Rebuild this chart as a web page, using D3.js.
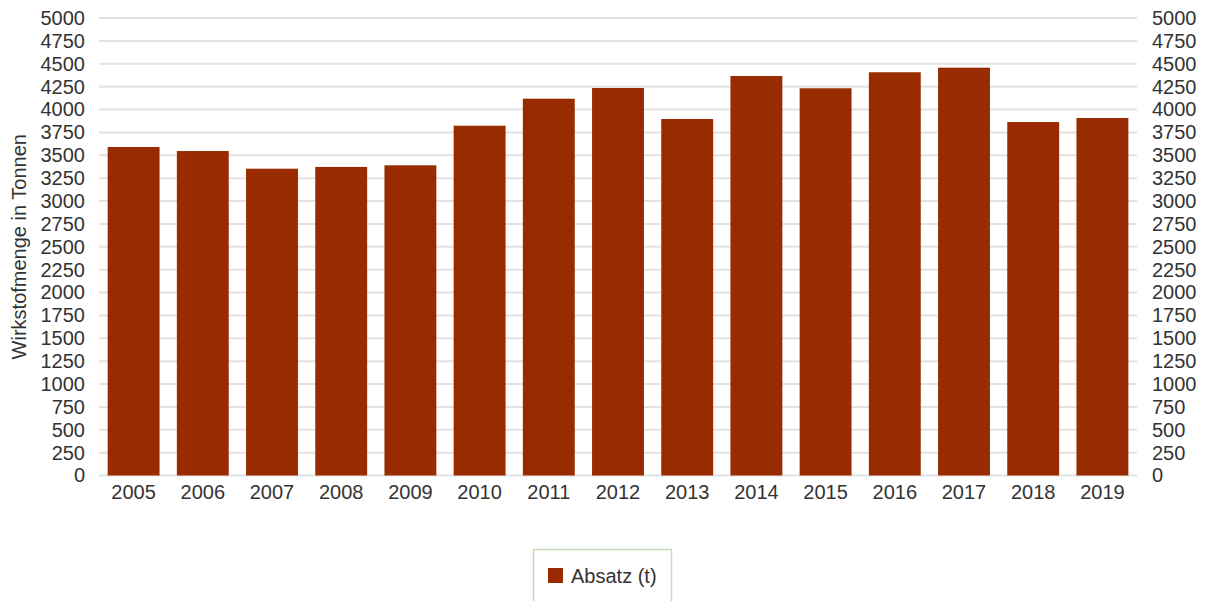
<!DOCTYPE html>
<html>
<head>
<meta charset="utf-8">
<script src="https://cdn.jsdelivr.net/npm/d3@7"></script>
<style>
  body { margin: 0; background: #fff; }
  text { font-family: "Liberation Sans", Arial, sans-serif; fill: #333; }
</style>
</head>
<body>
<div class="container"></div>
<script>
var years = ['2005', '2006', '2007', '2008', '2009', '2010', '2011', '2012', '2013', '2014', '2015', '2016', '2017', '2018', '2019'];
var absatz = [3590, 3546, 3353, 3372, 3390, 3823, 4118, 4235, 3896, 4366, 4232, 4407, 4457, 3863, 3907];
var yTicks = [0, 250, 500, 750, 1000, 1250, 1500, 1750, 2000, 2250, 2500, 2750, 3000, 3250, 3500, 3750, 4000, 4250, 4500, 4750, 5000];
var seriesName = 'Absatz (t)';
var yTitle = 'Wirkstofmenge in Tonnen';

const WIDTH = 1207;
const HEIGHT = 601;
const LEFT = 99, RIGHT = 1137, TOP = 18, BOTTOM = 475.5;
const BAR_COLOR = '#992b00';
const FONT_SIZE = 20;

var svg = d3.select('.container').append('svg')
	.attr('width', WIDTH)
	.attr('height', HEIGHT);

var xScale = d3.scaleBand()
	.domain(years)
	.range([LEFT, RIGHT])
	.paddingInner(0.25)
	.paddingOuter(0.125);

var yScale = d3.scaleLinear()
	.domain([0, 5000])
	.range([BOTTOM, TOP]);

// gridlines
svg.append('g')
	.selectAll('line').data(yTicks)
	.enter().append('line')
	.attr('x1', LEFT).attr('x2', RIGHT)
	.attr('y1', function(d){ return yScale(d); })
	.attr('y2', function(d){ return yScale(d); })
	.attr('stroke', '#e2e2e2')
	.attr('stroke-width', 2);

// bars
svg.append('g')
	.selectAll('rect').data(absatz)
	.enter().append('rect')
	.attr('x', function(d, i){ return xScale(years[i]); })
	.attr('width', xScale.bandwidth())
	.attr('y', function(d){ return yScale(d); })
	.attr('height', function(d){ return yScale(0) - yScale(d); })
	.attr('fill', BAR_COLOR);

var fmt = d3.format('d');
var leftAxis = d3.axisLeft(yScale).tickValues(yTicks).tickFormat(fmt).tickSize(0).tickPadding(14);
var rightAxis = d3.axisRight(yScale).tickValues(yTicks).tickFormat(fmt).tickSize(0).tickPadding(15);
var bottomAxis = d3.axisBottom(xScale).tickSize(0).tickPadding(9);

function styleAxis(g){
	g.select('.domain').remove();
	g.selectAll('text').attr('font-size', FONT_SIZE).attr('fill', '#333')
		.style('font-family', '"Liberation Sans", Arial, sans-serif');
}

svg.append('g').attr('transform', 'translate(' + LEFT + ',0)').call(leftAxis).call(styleAxis);
svg.append('g').attr('transform', 'translate(' + RIGHT + ',0)').call(rightAxis).call(styleAxis);
svg.append('g').attr('transform', 'translate(0,' + BOTTOM + ')').call(bottomAxis).call(styleAxis);

// y title
svg.append('text')
	.attr('transform', 'translate(26,' + ((TOP + BOTTOM) / 2) + ') rotate(-90)')
	.attr('text-anchor', 'middle')
	.attr('font-size', FONT_SIZE)
	.text(yTitle);

// legend
var legend = svg.append('g');
legend.append('rect')
	.attr('x', 533.5).attr('y', 549.5)
	.attr('width', 138).attr('height', 60)
	.attr('fill', 'none')
	.attr('stroke', '#c8dcb8')
	.attr('stroke-width', 1.5);
legend.append('rect')
	.attr('x', 548).attr('y', 568)
	.attr('width', 15).attr('height', 15)
	.attr('fill', BAR_COLOR);
legend.append('text')
	.attr('x', 571).attr('y', 583)
	.attr('font-size', FONT_SIZE)
	.text(seriesName);
</script>
</body>
</html>
